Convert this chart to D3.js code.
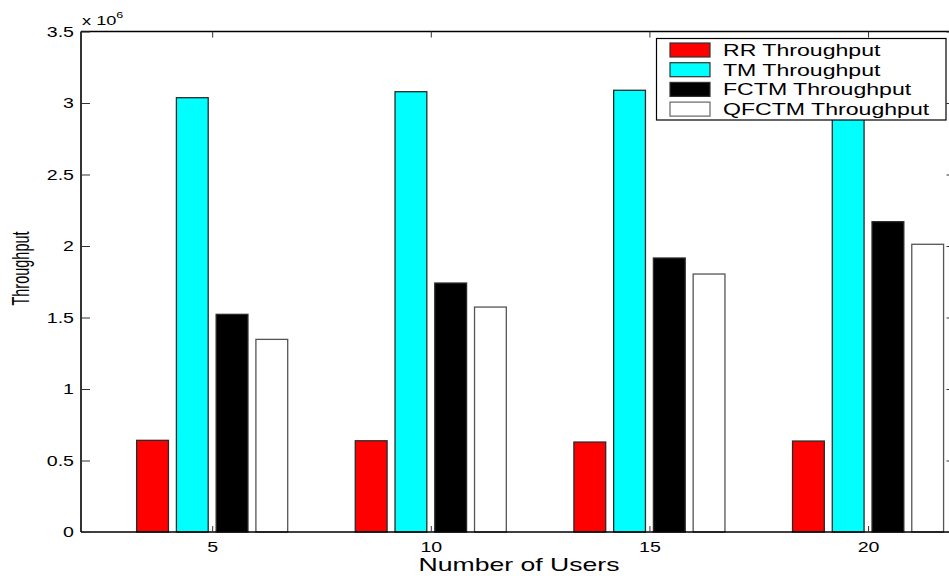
<!DOCTYPE html>
<html>
<head>
<meta charset="utf-8">
<script src="https://cdn.jsdelivr.net/npm/d3@7"></script>
<style>
  html, body { margin: 0; padding: 0; background: #fff; }
  svg { display: block; }
  text { font-family: "Liberation Sans", Arial, Helvetica, sans-serif; fill: #000; }
</style>
</head>
<body>
<svg id="chart" width="949" height="576"></svg>
<script>
// Number of users on the x axis
const users = [5, 10, 15, 20];
// Throughput per scheduler, in units of 10^6
const seriesNames = ["RR Throughput", "TM Throughput", "FCTM Throughput", "QFCTM Throughput"];
const rrValues = [0.641, 0.638, 0.629, 0.636];
const tmValues = [3.037, 3.079, 3.089, 3.100];
const fctmValues = [1.522, 1.741, 1.916, 2.170];
const qfctmValues = [1.347, 1.573, 1.804, 2.012];
const yTicks = [0, 0.5, 1, 1.5, 2, 2.5, 3, 3.5];
const yTickLabels = ["0", "0.5", "1", "1.5", "2", "2.5", "3", "3.5"];
const seriesColors = ["#ff0000", "#00ffff", "#000000", "#ffffff"];

const series = [rrValues, tmValues, fctmValues, qfctmValues];

const svg = d3.select("#chart");
const plotLeft = 81, plotRight = 955.5, plotTop = 31.5, plotBottom = 532;
const sx = 1.4; // horizontal stretch of the lettering

const x = d3.scaleLinear().domain([2, 22]).range([plotLeft, plotRight]);
const y = d3.scaleLinear().domain([0, 3.5]).range([plotBottom, plotTop]);

// grouped bar geometry (MATLAB-style: group width = n/(n+1.5) of the category spacing)
const spacing = users[1] - users[0];
const slot = spacing * (series.length / (series.length + 1.5)) / series.length;
const barW = slot * 0.8;

const bars = svg.append("g");
series.forEach((vals, si) => {
  bars.selectAll(null)
    .data(users.map((u, i) => ({ u, v: vals[i] })))
    .enter().append("rect")
    .attr("x", d => x(d.u + (si - 1.5) * slot - barW / 2))
    .attr("width", d => x(d.u + barW) - x(d.u))
    .attr("y", d => y(d.v))
    .attr("height", d => y(0) - y(d.v))
    .attr("fill", seriesColors[si])
    .attr("stroke", si === 3 ? "#555" : "#2a2a2a")
    .attr("stroke-width", 1.3);
});

// axes box
const axisG = svg.append("g").attr("stroke", "#000").attr("fill", "none");
axisG.append("line").attr("x1", plotLeft).attr("x2", plotLeft).attr("y1", plotTop).attr("y2", plotBottom).attr("stroke-width", 1.6);
axisG.append("line").attr("x1", plotLeft).attr("x2", plotRight).attr("y1", plotBottom).attr("y2", plotBottom).attr("stroke-width", 1.6);
axisG.append("line").attr("x1", plotLeft).attr("x2", plotRight).attr("y1", plotTop).attr("y2", plotTop).attr("stroke-width", 1.4);
axisG.append("line").attr("x1", plotRight).attr("x2", plotRight).attr("y1", plotTop).attr("y2", plotBottom).attr("stroke-width", 1.2);

// y axis ticks and labels (left), ticks mirrored on the right
const yAxis = d3.axisLeft(y).tickValues(yTicks).tickSizeInner(-9).tickSizeOuter(0).tickFormat((d, i) => yTickLabels[i]);
const yg = svg.append("g").attr("transform", `translate(${plotLeft},0)`).call(yAxis);
yg.select(".domain").remove();
yg.selectAll(".tick line").attr("stroke", "#333").attr("stroke-width", 1);
yg.selectAll(".tick text")
  .attr("x", 0).attr("dy", null).attr("dominant-baseline", "central")
  .attr("text-anchor", "end").attr("fill", "#000")
  .style("font-size", "14px").style("font-family", "Liberation Sans, Arial, sans-serif")
  .attr("transform", `translate(-7,0) scale(${sx},1)`);

const yr = svg.append("g").attr("transform", `translate(${plotRight},0)`)
  .call(d3.axisRight(y).tickValues(yTicks).tickSizeInner(-9).tickSizeOuter(0).tickFormat(""));
yr.select(".domain").remove();
yr.selectAll(".tick line").attr("stroke", "#333");

// x axis ticks and labels (bottom), ticks mirrored on top
const xg = svg.append("g").attr("transform", `translate(0,${plotBottom})`)
  .call(d3.axisBottom(x).tickValues(users).tickSizeInner(-6).tickSizeOuter(0));
xg.select(".domain").remove();
xg.selectAll(".tick line").attr("stroke", "#333");
xg.selectAll(".tick text")
  .attr("x", 0).attr("y", 15).attr("dy", null).attr("dominant-baseline", "central")
  .attr("text-anchor", "middle").attr("fill", "#000")
  .style("font-size", "14px").style("font-family", "Liberation Sans, Arial, sans-serif")
  .attr("transform", `scale(${sx},1)`);

const xt = svg.append("g").attr("transform", `translate(0,${plotTop})`)
  .call(d3.axisTop(x).tickValues(users).tickSizeInner(-6).tickSizeOuter(0).tickFormat(""));
xt.select(".domain").remove();
xt.selectAll(".tick line").attr("stroke", "#333");

// exponent marker above the y axis
const expo = svg.append("text").attr("transform", `translate(82,24.5) scale(${sx},1)`).style("font-size", "13px");
expo.append("tspan").text("x 10");
expo.append("tspan").attr("dy", -7).style("font-size", "9px").text("6");

// axis titles
svg.append("text")
  .attr("transform", `translate(519,571) scale(${sx},1)`)
  .attr("text-anchor", "middle").style("font-size", "19px")
  .text("Number of Users");
svg.append("text")
  .attr("transform", `translate(29,268.5) rotate(-90) scale(1,1.7)`)
  .attr("text-anchor", "middle").style("font-size", "14.5px")
  .text("Throughput");

// legend
const lg = svg.append("g");
lg.append("rect").attr("x", 656.5).attr("y", 38.5).attr("width", 289.5).attr("height", 81.5)
  .attr("fill", "#fff").attr("stroke", "#000").attr("stroke-width", 1.2);
seriesNames.forEach((name, i) => {
  const cy = 50 + i * 19.7;
  lg.append("rect").attr("x", 670).attr("y", cy - 7).attr("width", 40).attr("height", 14)
    .attr("fill", seriesColors[i]).attr("stroke", i === 3 ? "#666" : "#333").attr("stroke-width", 1.2);
  lg.append("text").attr("transform", `translate(723,${cy + 6}) scale(${sx},1)`)
    .style("font-size", "16.5px").text(name);
});
</script>
</body>
</html>
